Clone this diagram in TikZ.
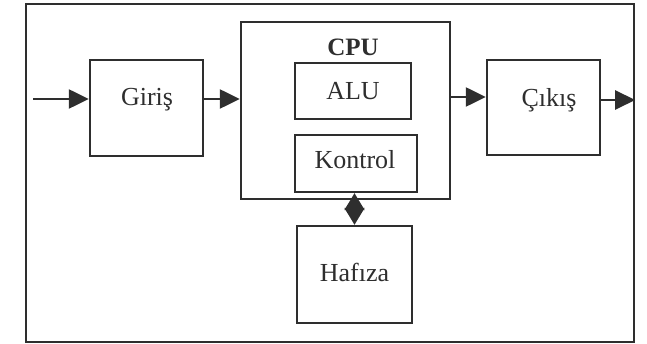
\documentclass[tikz,border=0pt]{standalone}
\usepackage{fontspec}
\setmainfont{Liberation Serif}
\usetikzlibrary{arrows.meta}
\definecolor{ink}{HTML}{2e2e2e}
\tikzset{
  box/.style={draw=ink, line width=2.4pt, inner sep=0pt, minimum width=#1},
  lbl/.style={text=ink, font=\fontsize{26}{30}\selectfont, inner sep=0pt},
  arr/.style={draw=ink, line width=2.4pt, -{Triangle[length=20pt,width=19pt]}},
  dia/.style={draw=ink, line width=2pt, {Triangle[length=17pt,width=20pt]}-{Triangle[length=17pt,width=20pt]}}
}
\begin{document}
\begin{tikzpicture}[x=1pt,y=-1pt]
\useasboundingbox (0,0) rectangle (647,344);
\node[box=608pt, minimum height=338pt] (sys) at (330,173) {};
\node[box=113pt, minimum height=96pt] (giris) at (146.5,108) {};
\node[lbl] (girist) at (147,100) {Giriş};
\node[box=209pt, minimum height=177pt] (cpu) at (345.5,110.5) {};
\node[lbl, font=\fontsize{25}{28}\selectfont\bfseries] (cput) at (353,47) {CPU};
\node[box=116pt, minimum height=56pt] (alu) at (353,91) {};
\node[lbl] (alut) at (353,91) {ALU};
\node[box=122pt, minimum height=57pt] (kontrol) at (356,163.5) {};
\node[lbl] (kontrolt) at (355,160) {Kontrol};
\node[box=115pt, minimum height=97pt] (hafiza) at (354.5,274.5) {};
\node[lbl] (hafizat) at (354.5,272) {Hafıza};
\node[box=113pt, minimum height=95pt] (cikis) at (543.5,107.5) {};
\node[lbl] (cikist) at (549,100) {Çıkış};
\coordinate (in) at (33,99);
\draw[arr] (in) -- (in -| giris.west);
\draw[arr] (giris.east |- in) -- (cpu.west |- in);
\draw[arr] (cpu.east |- 0,97) -- (cikis.west |- 0,97);
\draw[arr] (cikis.east |- 0,100) -- (sys.east |- 0,100);
\draw[dia] (kontrol.south -| hafiza.north) -- (hafiza.north);
\end{tikzpicture}
\end{document}
